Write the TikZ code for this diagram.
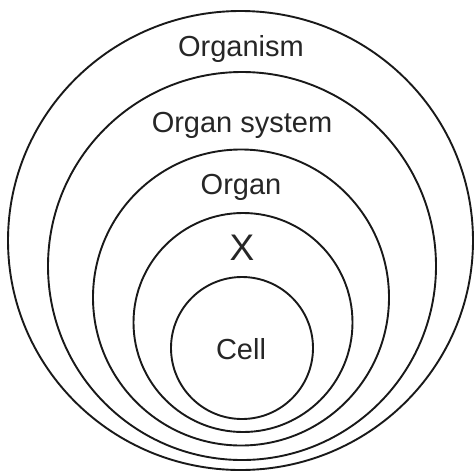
\documentclass[tikz,border=0pt]{standalone}
\usepackage{fontspec}
\setmainfont{Liberation Sans}
\begin{document}
\begin{tikzpicture}[x=1pt,y=-1pt,
  ring/.style={draw=black!90,line width=1.9pt},
  lbl/.style={anchor=base,inner sep=0pt,text=black!85,font=\fontsize{29}{32}\selectfont}]
\useasboundingbox (0,0) rectangle (474,472);
\draw[ring] (240.5,240.5) ellipse [x radius=232.5,y radius=229.5];
\draw[ring] (242,266) circle [radius=194];
\draw[ring] (241,297.5) circle [radius=148];
\draw[ring] (243,322.5) circle [radius=109.5];
\draw[ring] (242,348) circle [radius=71];
\node[lbl] (organism) at (241,56) {Organism};
\node[lbl] (system) at (242,132) {Organ system};
\node[lbl] (organ) at (241,194) {Organ};
\node[lbl,font=\fontsize{37}{40}\selectfont] (x) at (242,260) {X};
\node[lbl] (cell) at (241,359) {Cell};
\end{tikzpicture}
\end{document}
